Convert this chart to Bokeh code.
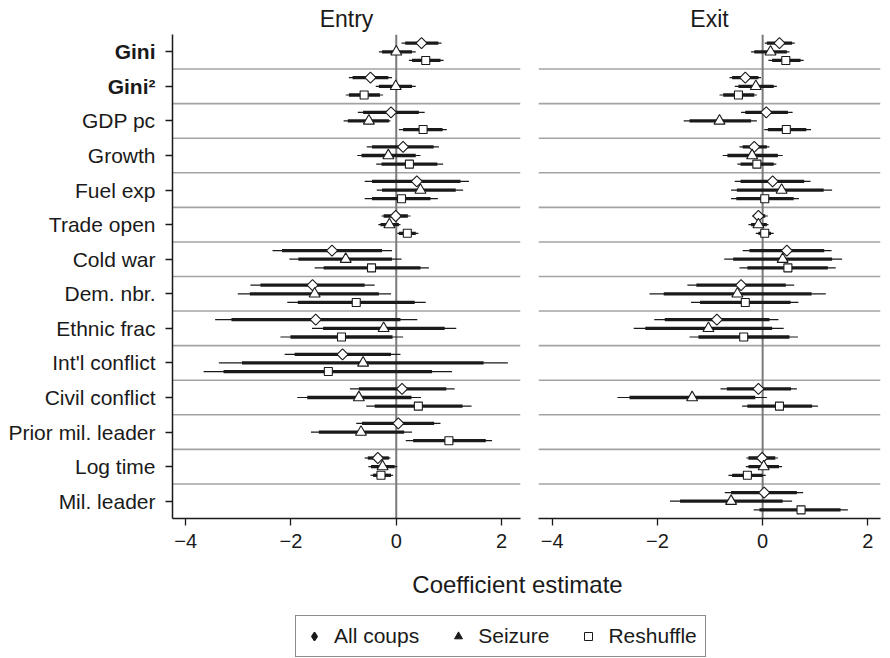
import numpy as np
from bokeh.plotting import figure
from bokeh.models import Range1d, FixedTicker, Span, Label, Legend, LegendItem, ColumnDataSource
from bokeh.layouts import column, row
from bokeh.core.properties import value
from bokeh.embed import file_html
from bokeh.resources import INLINE

# ---------------- data ----------------
variables = ["Gini", "Gini²", "GDP pc", "Growth", "Fuel exp", "Trade open", "Cold war",
             "Dem. nbr.", "Ethnic frac", "Int'l conflict", "Civil conflict",
             "Prior mil. leader", "Log time", "Mil. leader"]
bold_variables = ["Gini", "Gini²"]
series_names = ["All coups", "Seizure", "Reshuffle"]
panel_titles = ["Entry", "Exit"]
x_ticks = [-4, -2, 0, 2]
x_tick_labels = ["\u22124", "\u22122", "0", "2"]
x_label = "Coefficient estimate"

# estimates, 95% intervals (thin) and 90% intervals (thick); None = not in model
entry_all_est = [0.48, -0.49, -0.10, 0.13, 0.39, -0.01, -1.22, -1.59, -1.53, -1.02, 0.11, 0.04, -0.35, None]
entry_all_ci95 = [(0.10, 0.86), (-0.90, -0.08), (-0.73, 0.54), (-0.56, 0.81), (-0.60, 1.38), (-0.28, 0.27),
                  (-2.35, -0.08), (-2.77, -0.41), (-3.44, 0.40), (-2.12, 0.08), (-0.88, 1.11), (-0.76, 0.84),
                  (-0.60, -0.11), None]
entry_all_ci90 = [(0.17, 0.80), (-0.83, -0.15), (-0.63, 0.43), (-0.46, 0.71), (-0.46, 1.22), (-0.24, 0.22),
                  (-2.17, -0.27), (-2.58, -0.60), (-3.13, 0.08), (-1.93, -0.10), (-0.71, 0.95), (-0.65, 0.72),
                  (-0.54, -0.14), None]

entry_seizure_est = [0.00, -0.01, -0.52, -0.15, 0.46, -0.13, -0.96, -1.55, -0.24, -0.63, -0.71, -0.67, -0.26, None]
entry_seizure_ci95 = [(-0.33, 0.37), (-0.39, 0.37), (-1.00, -0.11), (-0.74, 0.46), (-0.37, 1.27), (-0.34, 0.08),
                      (-2.03, 0.10), (-3.01, -0.10), (-1.60, 1.14), (-3.37, 2.12), (-1.88, 0.47), (-1.62, 0.30),
                      (-0.53, 0.02), None]
entry_seizure_ci90 = [(-0.27, 0.30), (-0.33, 0.30), (-0.92, -0.14), (-0.66, 0.37), (-0.27, 1.13), (-0.30, 0.05),
                      (-1.86, -0.08), (-2.78, -0.33), (-1.39, 0.92), (-2.93, 1.66), (-1.69, 0.29), (-1.47, 0.15),
                      (-0.48, -0.03), None]

entry_reshuffle_est = [0.56, -0.61, 0.51, 0.25, 0.10, 0.21, -0.47, -0.76, -1.04, -1.29, 0.42, 1.00, -0.29, None]
entry_reshuffle_ci95 = [(0.24, 0.90), (-0.96, -0.25), (0.05, 0.96), (-0.38, 0.89), (-0.60, 0.79), (0.02, 0.42),
                        (-1.55, 0.62), (-2.07, 0.56), (-2.20, 0.13), (-3.66, 1.06), (-0.57, 1.43), (0.18, 1.82),
                        (-0.49, -0.06), None]
entry_reshuffle_ci90 = [(0.30, 0.84), (-0.90, -0.31), (0.13, 0.88), (-0.28, 0.78), (-0.46, 0.65), (0.05, 0.37),
                        (-1.38, 0.46), (-1.87, 0.35), (-2.01, -0.07), (-3.28, 0.68), (-0.41, 1.26), (0.32, 1.70),
                        (-0.44, -0.10), None]

exit_all_est = [0.32, -0.33, 0.07, -0.16, 0.19, -0.08, 0.46, -0.41, -0.87, None, -0.08, None, -0.01, 0.03]
exit_all_ci95 = [(0.04, 0.61), (-0.63, -0.03), (-0.41, 0.57), (-0.44, 0.13), (-0.53, 0.91), (-0.20, 0.10),
                 (-0.38, 1.31), (-1.43, 0.60), (-2.06, 0.30), None, (-0.80, 0.65), None,
                 (-0.31, 0.29), (-0.72, 0.77)]
exit_all_ci90 = [(0.08, 0.56), (-0.58, -0.08), (-0.33, 0.48), (-0.38, 0.08), (-0.42, 0.79), (-0.16, 0.05),
                 (-0.25, 1.17), (-1.26, 0.44), (-1.86, 0.13), None, (-0.68, 0.54), None,
                 (-0.27, 0.24), (-0.60, 0.65)]

exit_seizure_est = [0.15, -0.13, -0.82, -0.20, 0.36, -0.08, 0.38, -0.48, -1.03, None, -1.34, None, 0.02, -0.60]
exit_seizure_ci95 = [(-0.22, 0.51), (-0.53, 0.27), (-1.50, -0.11), (-0.76, 0.38), (-0.60, 1.32), (-0.27, 0.11),
                     (-0.73, 1.51), (-2.15, 1.20), (-2.45, 0.40), None, (-2.76, 0.08), None,
                     (-0.32, 0.37), (-1.76, 0.56)]
exit_seizure_ci90 = [(-0.16, 0.46), (-0.46, 0.21), (-1.39, -0.22), (-0.67, 0.29), (-0.49, 1.16), (-0.22, 0.08),
                     (-0.56, 1.32), (-1.88, 0.93), (-2.23, 0.18), None, (-2.53, -0.14), None,
                     (-0.27, 0.31), (-1.57, 0.38)]

exit_reshuffle_est = [0.44, -0.46, 0.45, -0.11, 0.04, 0.04, 0.48, -0.33, -0.36, None, 0.32, None, -0.29, 0.73]
exit_reshuffle_ci95 = [(0.11, 0.78), (-0.82, -0.11), (0.03, 0.92), (-0.48, 0.26), (-0.60, 0.69), (-0.13, 0.21),
                       (-0.44, 1.39), (-1.36, 0.68), (-1.39, 0.67), None, (-0.39, 1.05), None,
                       (-0.65, 0.06), (-0.17, 1.62)]
exit_reshuffle_ci90 = [(0.18, 0.72), (-0.75, -0.16), (0.10, 0.83), (-0.42, 0.21), (-0.50, 0.59), (-0.08, 0.16),
                       (-0.29, 1.24), (-1.19, 0.53), (-1.22, 0.51), None, (-0.29, 0.94), None,
                       (-0.58, 0.00), (-0.06, 1.48)]

entry_data = [(entry_all_est, entry_all_ci95, entry_all_ci90),
              (entry_seizure_est, entry_seizure_ci95, entry_seizure_ci90),
              (entry_reshuffle_est, entry_reshuffle_ci95, entry_reshuffle_ci90)]
exit_data = [(exit_all_est, exit_all_ci95, exit_all_ci90),
             (exit_seizure_est, exit_seizure_ci95, exit_seizure_ci90),
             (exit_reshuffle_est, exit_reshuffle_ci95, exit_reshuffle_ci90)]

# ---------------- style ----------------
FONT = "Liberation Sans"
TXT = "#1a1a1a"
INK = "#1a1a1a"
ROW_OFFSETS = [-0.25, 0.0, 0.25]
MARKERS = [("square", 7.8, np.pi / 4), ("triangle", 11, 0.0), ("square", 8, 0.0)]
N = len(variables)
TOP, FRAME_H, BOTTOM = 34, 484, 40
LABEL_W = 160

shared_y = Range1d(N - 0.5, -0.5)


def build_panel(title, data, left):
    p = figure(output_backend="svg", toolbar_location=None,
               frame_width=348 if left else 342, frame_height=FRAME_H,
               x_range=Range1d(-4.25, 2.36) if left else Range1d(-4.26, 2.24),
               y_range=shared_y,
               min_border_left=12 if left else 9, min_border_right=9 if left else 8,
               min_border_top=TOP, min_border_bottom=BOTTOM,
               y_axis_location="left" if left else None, title=title)
    p.outline_line_color = None
    p.grid.visible = False

    p.title.align = "center"
    p.title.text_font = FONT
    p.title.text_font_size = "23px"
    p.title.text_font_style = "normal"
    p.title.text_color = TXT
    p.title.standoff = 6

    xa = p.xaxis[0]
    xa.ticker = FixedTicker(ticks=x_ticks)
    xa.major_label_overrides = {t: s for t, s in zip(x_ticks, x_tick_labels)}
    xa.minor_tick_line_color = None
    xa.major_tick_in = 0
    xa.major_tick_out = 7
    xa.major_label_standoff = 8
    xa.axis_line_width = 1.5
    xa.axis_line_color = INK
    xa.major_tick_line_color = INK
    xa.major_tick_line_width = 1.3
    xa.major_label_text_font = FONT
    xa.major_label_text_font_size = "20px"
    xa.major_label_text_color = TXT

    if left:
        ya = p.yaxis[0]
        ya.ticker = FixedTicker(ticks=list(range(N)))
        ya.major_label_overrides = {i: "" for i in range(N)}
        ya.minor_tick_line_color = None
        ya.major_tick_in = 0
        ya.major_tick_out = 7
        ya.major_label_standoff = 0
        ya.major_label_text_font_size = "1px"
        ya.axis_line_width = 1.5
        ya.axis_line_color = INK
        ya.major_tick_line_color = INK
        ya.major_tick_line_width = 1.3

    for k in range(N - 1):
        p.add_layout(Span(location=k + 0.5, dimension="width", line_color="#a3a3a3",
                          line_width=1.6, level="underlay"))
    p.add_layout(Span(location=0, dimension="height", line_color="#7a7a7a",
                      line_width=2, level="underlay"))

    for s, (est, ci95, ci90) in enumerate(data):
        rows = [i for i in range(N) if est[i] is not None]
        src = ColumnDataSource(dict(
            y=[i + ROW_OFFSETS[s] for i in rows],
            est=[est[i] for i in rows],
            lo95=[ci95[i][0] for i in rows], hi95=[ci95[i][1] for i in rows],
            lo90=[ci90[i][0] for i in rows], hi90=[ci90[i][1] for i in rows],
        ))
        p.segment(x0="lo95", x1="hi95", y0="y", y1="y", source=src,
                  line_color=INK, line_width=1.2, line_cap="butt")
        p.segment(x0="lo90", x1="hi90", y0="y", y1="y", source=src,
                  line_color=INK, line_width=3.3, line_cap="butt")
        m, sz, ang = MARKERS[s]
        p.scatter(x="est", y="y", source=src, marker=m, size=sz, angle=ang,
                  fill_color="white", line_color=INK, line_width=1.1)
    return p


# ---------------- variable-name column (bold for the Gini terms) ----------------
lab = figure(output_backend="svg", toolbar_location=None, frame_width=LABEL_W, frame_height=FRAME_H,
             x_range=Range1d(0, LABEL_W), y_range=shared_y, min_border_left=0, min_border_right=0,
             min_border_top=TOP, min_border_bottom=BOTTOM, x_axis_location=None, y_axis_location=None)
lab.outline_line_color = None
lab.grid.visible = False
lab_src = ColumnDataSource(dict(
    x=[LABEL_W] * N, y=list(range(N)), name=variables,
    style=["bold" if v in bold_variables else "normal" for v in variables]))
lab.text(x="x", y="y", text="name", source=lab_src, x_offset=-5, text_align="right",
         text_baseline="middle", text_font=value(FONT), text_font_size=value("21px"),
         text_font_style="style", text_color=TXT)

p_entry = build_panel(panel_titles[0], entry_data, True)
p_exit = build_panel(panel_titles[1], exit_data, False)

# ---------------- bottom: x label + legend ----------------
BW, BH = LABEL_W + 369 + 359, 100
q = figure(output_backend="svg", toolbar_location=None, width=BW, height=BH,
           x_range=Range1d(0, BW), y_range=Range1d(0, BH), min_border=0,
           x_axis_location=None, y_axis_location=None)
q.outline_line_color = None
q.grid.visible = False
q.add_layout(Label(x=517, y=BH - 25.5, text=x_label, text_align="center", text_baseline="middle",
                   text_font=FONT, text_font_size="24px", text_color=TXT))

nan_src = dict(x=[np.nan], y=[np.nan])
r_all = q.scatter(x="x", y="y", source=ColumnDataSource(nan_src), marker="diamond", size=10,
                  fill_color=INK, line_color=INK, line_width=1.5)
r_sei = q.scatter(x="x", y="y", source=ColumnDataSource(nan_src), marker="triangle", size=8,
                  fill_color=INK, line_color=INK)
r_res = q.scatter(x="x", y="y", source=ColumnDataSource(nan_src), marker="square", size=8,
                  fill_color="white", line_color=INK, line_width=1)
legend = Legend(items=[LegendItem(label=series_names[0], renderers=[r_all]),
                       LegendItem(label=series_names[1], renderers=[r_sei]),
                       LegendItem(label=series_names[2], renderers=[r_res])],
                orientation="horizontal", location=(295, 1), margin=0, padding=8,
                spacing=29, label_standoff=10, glyph_width=20, glyph_height=20,
                label_text_font=FONT, label_text_font_size="21px", label_text_color=TXT,
                border_line_color=INK, border_line_width=1.2, background_fill_color="white")
q.add_layout(legend, "center")

layout = column(row(lab, p_entry, p_exit, spacing=0), q, spacing=0)
open("out.html", "w").write(file_html(layout, INLINE))
